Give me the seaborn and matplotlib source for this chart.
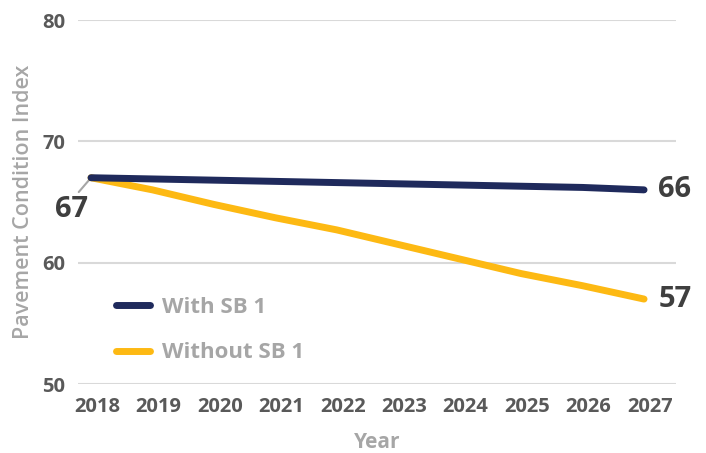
import matplotlib
matplotlib.use("Agg")
import matplotlib.pyplot as plt
import matplotlib.transforms as mtransforms
from matplotlib.lines import Line2D
import seaborn as sns
import pandas as pd

years = [2018, 2019, 2020, 2021, 2022, 2023, 2024, 2025, 2026, 2027]
with_sb1 = [67.0, 66.9, 66.8, 66.7, 66.6, 66.5, 66.4, 66.3, 66.2, 66.0]
without_sb1 = [67.0, 66.0, 64.8, 63.7, 62.7, 61.5, 60.3, 59.1, 58.1, 57.0]
series_names = ["With SB 1", "Without SB 1"]
colors = ["#1f2a5c", "#fdb913"]
y_ticks = [50, 60, 70, 80]

df = pd.DataFrame({
    "Year": years * 2,
    "PCI": with_sb1 + without_sb1,
    "Series": [series_names[0]] * len(years) + [series_names[1]] * len(years),
})

sns.set_theme(style="white")
plt.rcParams["font.family"] = ["Open Sans", "DejaVu Sans"]

W, H = 706, 453
fig = plt.figure(figsize=(W / 100, H / 100), dpi=100)
ax = fig.add_axes([78 / W, 1 - 384 / H, (676 - 78) / W, (384 - 20) / H])

sns.lineplot(data=df, x="Year", y="PCI", hue="Series", hue_order=[series_names[1], series_names[0]],
             palette={series_names[0]: colors[0], series_names[1]: colors[1]},
             linewidth=5, solid_capstyle="round", ax=ax, legend=False)

ax.set_xlim(2017.788, 2027.52)
ax.set_ylim(50, 80)
ax.set_yticks(y_ticks)
ax.set_xticks(years)
ax.set_xticklabels([str(y) for y in years])
ax.grid(axis="y", color="#d9d9d9", linewidth=1.5)
ax.grid(axis="x", visible=False)
ax.set_axisbelow(True)
for s in ax.spines.values():
    s.set_visible(False)
ax.tick_params(axis="both", length=0, labelsize=14.5, labelcolor="#595959")
for lbl in ax.get_xticklabels() + ax.get_yticklabels():
    lbl.set_fontweight("bold")
ax.tick_params(axis="x", pad=9.5)
ax.tick_params(axis="y", pad=9)
offset = mtransforms.ScaledTranslation(6 / 100, 0, fig.dpi_scale_trans)
for lbl in ax.get_xticklabels():
    lbl.set_transform(lbl.get_transform() + offset)

ax.set_xlabel("Year", fontsize=15, color="#a6a6a6", fontweight="bold", labelpad=11)
ax.set_ylabel("Pavement Condition Index", fontsize=15.5, color="#a6a6a6", fontweight="semibold", labelpad=6)

# value labels
ax.plot([years[0], 2017.80], [without_sb1[0], 65.82], color="#a6a6a6", lw=1.5, clip_on=False, zorder=1)
ax.text(2017.69, 64.35, f"{with_sb1[0]:.0f}", fontsize=21, fontweight="bold", color="#3f3f3f",
        ha="center", va="center", clip_on=False)
ax.text(years[-1] + 0.23, with_sb1[-1], f"{with_sb1[-1]:.0f}", fontsize=21, fontweight="bold",
        color="#3f3f3f", ha="left", va="center", clip_on=False)
ax.text(years[-1] + 0.23, without_sb1[-1], f"{without_sb1[-1]:.0f}", fontsize=21, fontweight="bold",
        color="#3f3f3f", ha="left", va="center", clip_on=False)

# legend
handles = [Line2D([0], [0], color=colors[0], lw=5, solid_capstyle="round"),
           Line2D([0], [0], color=colors[1], lw=5, solid_capstyle="round")]
leg = fig.legend(handles, series_names, loc="upper left", bbox_to_anchor=(116 / W, 1 - 297 / H),
                 bbox_transform=fig.transFigure, frameon=False, borderpad=0, borderaxespad=0,
                 handlelength=1.55, labelspacing=1.1, handletextpad=0.5,
                 prop={"size": 16, "weight": "bold"})
for t in leg.get_texts():
    t.set_color("#a6a6a6")

fig.savefig("out.png", dpi=100)
